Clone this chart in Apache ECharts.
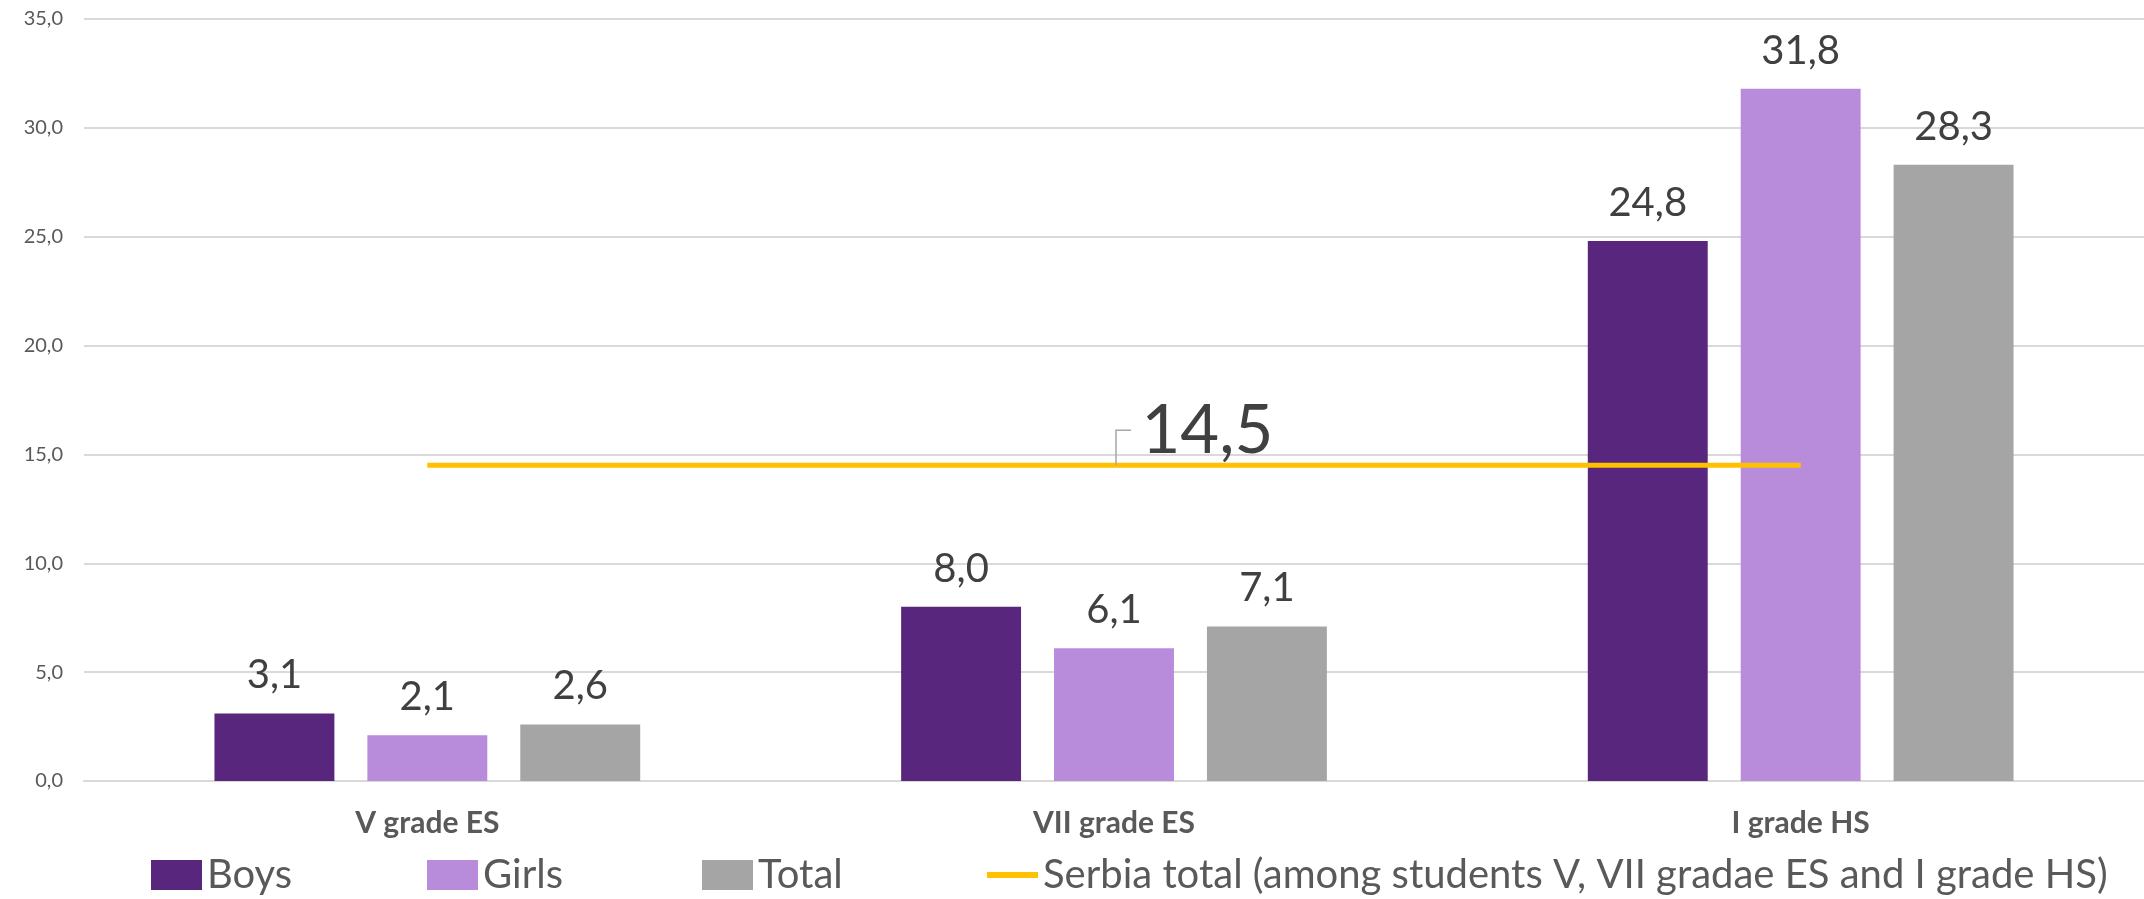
<!DOCTYPE html>
<html>
<head>
<meta charset="utf-8">
<script src="https://cdn.jsdelivr.net/npm/echarts@6/dist/echarts.min.js"></script>
<style>
  html, body { margin: 0; padding: 0; background: #fff; }
  #chart { width: 2144px; height: 899px; }
</style>
</head>
<body>
<div id="chart"></div>
<script>
var categories = ['V grade ES', 'VII grade ES', 'I grade HS']
var boys = [3.1, 8.0, 24.8]
var girls = [2.1, 6.1, 31.8]
var total = [2.6, 7.1, 28.3]
var serbiaTotal = [14.5, 14.5, 14.5]
var serbiaName = 'Serbia total (among students V, VII gradae ES and I grade HS)'

var font = 'Lato, "Open Sans", sans-serif'

function comma (v) {
  return Number(v).toFixed(1).replace('.', ',')
}

function barSeries (name, color, data) {
  return {
    name: name,
    type: 'bar',
    barGap: '27.5%',
    barCategoryGap: '38%',
    itemStyle: { color: color },
    label: {
      show: true,
      position: 'top',
      distance: 18,
      color: '#404040',
      fontFamily: font,
      fontSize: 40,
      formatter: function (p) { return comma(p.value) }
    },
    data: data
  }
}

// one legend per item so each marker sits where the original has it
function legendAt (left, item) {
  return {
    left: left,
    top: 850,
    itemWidth: 51,
    itemHeight: 30,
    itemGap: 0,
    textStyle: { color: '#595959', fontFamily: font, fontSize: 40 },
    data: [item]
  }
}

var option = {
  animation: false,
  grid: {
    left: 84,
    right: 0,
    top: 19,
    bottom: 118
  },
  legend: [
    legendAt(146, { name: 'Boys', icon: 'rect' }),
    legendAt(422, { name: 'Girls', icon: 'rect' }),
    legendAt(697, { name: 'Total', icon: 'rect' }),
    legendAt(979, { name: serbiaName, itemStyle: { opacity: 0 }, lineStyle: { width: 6 } })
  ],
  xAxis: {
    type: 'category',
    data: categories,
    axisTick: { show: false },
    axisLine: { lineStyle: { color: '#d9d9d9', width: 2 } },
    axisLabel: {
      color: '#595959',
      fontFamily: font,
      fontWeight: 'bold',
      fontSize: 30,
      margin: 27
    }
  },
  yAxis: {
    type: 'value',
    min: 0,
    max: 35,
    interval: 5,
    axisLine: { show: false },
    axisTick: { show: false },
    splitLine: { lineStyle: { color: '#d9d9d9', width: 2 } },
    axisLabel: {
      color: '#595959',
      fontFamily: font,
      fontSize: 20,
      margin: 21,
      formatter: function (v) { return comma(v) }
    }
  },
  series: [
    barSeries('Boys', '#58267d', boys),
    barSeries('Girls', '#b88cdb', girls),
    barSeries('Total', '#a5a5a5', total),
    {
      name: serbiaName,
      type: 'line',
      symbol: 'circle',
      symbolSize: 1,
      lineStyle: { color: '#ffc000', width: 5 },
      itemStyle: { color: '#ffc000' },
      label: {
        show: true,
        position: 'right',
        color: '#404040',
        fontFamily: font,
        fontSize: 67,
        formatter: function (p) { return p.dataIndex === 1 ? comma(p.value) : '' }
      },
      labelLayout: function (params) {
        if (params.dataIndex !== 1) return {}
        return { dx: 22, dy: -34 }
      },
      data: serbiaTotal
    }
  ]
}

var chart = echarts.init(document.getElementById('chart'))
chart.setOption(option)

// leader line for the 14,5 label, anchored on the middle point of the line
var p = chart.convertToPixel({ seriesIndex: 3 }, [1, serbiaTotal[1]])
chart.setOption({
  graphic: [{
    type: 'polyline',
    silent: true,
    z: 10,
    shape: { points: [[p[0] + 2, p[1]], [p[0] + 2, p[1] - 35], [p[0] + 17, p[1] - 35]] },
    style: { stroke: '#a6a6a6', lineWidth: 1.5, fill: null }
  }]
})
</script>
</body>
</html>
